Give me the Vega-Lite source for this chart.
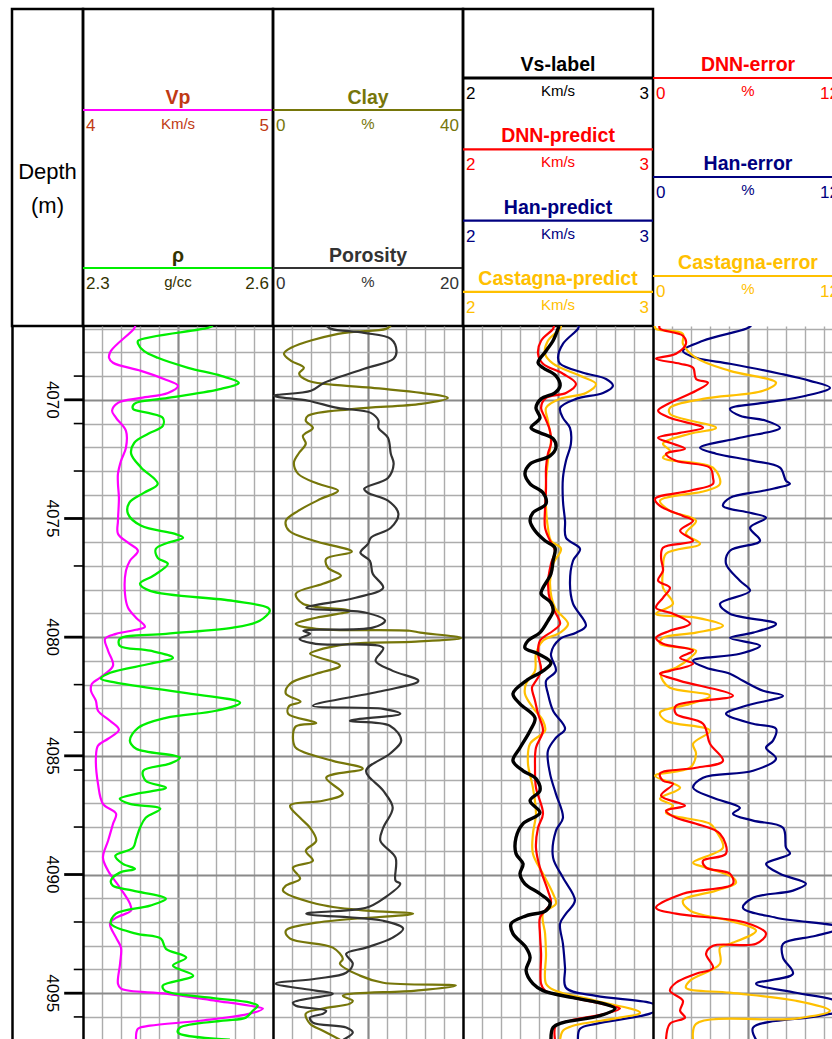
{
  "$schema": "https://vega.github.io/schema/vega-lite/v6.json",
  "background": "#ffffff",
  "padding": {"left": 10, "top": 7, "right": 0, "bottom": 0},
  "bounds": "flush",
  "spacing": 0,
  "columns": 5,
  "config": {
    "font": "Liberation Sans",
    "view": {"stroke": "#000000", "strokeWidth": 2.5}
  },
  "datasets": {
    "header": [
      {"track": 1, "curve": "Vp", "order": 1, "min": "4", "max": "5", "unit": "Km/s"},
      {"track": 1, "curve": "ρ", "order": 2, "min": "2.3", "max": "2.6", "unit": "g/cc"},
      {"track": 2, "curve": "Clay", "order": 1, "min": "0", "max": "40", "unit": "%"},
      {"track": 2, "curve": "Porosity", "order": 2, "min": "0", "max": "20", "unit": "%"},
      {"track": 3, "curve": "Vs-label", "order": 1, "min": "2", "max": "3", "unit": "Km/s"},
      {"track": 3, "curve": "DNN-predict", "order": 2, "min": "2", "max": "3", "unit": "Km/s"},
      {"track": 3, "curve": "Han-predict", "order": 3, "min": "2", "max": "3", "unit": "Km/s"},
      {"track": 3, "curve": "Castagna-predict", "order": 4, "min": "2", "max": "3", "unit": "Km/s"},
      {"track": 4, "curve": "DNN-error", "order": 1, "min": "0", "max": "12", "unit": "%"},
      {"track": 4, "curve": "Han-error", "order": 2, "min": "0", "max": "12", "unit": "%"},
      {"track": 4, "curve": "Castagna-error", "order": 3, "min": "0", "max": "12", "unit": "%"}
    ],
    "ticks": [
      {"depth": 4069, "major": false}, {"depth": 4070, "major": true}, {"depth": 4071, "major": false},
      {"depth": 4073, "major": false}, {"depth": 4075, "major": true}, {"depth": 4077, "major": false},
      {"depth": 4080, "major": true}, {"depth": 4082, "major": false}, {"depth": 4084, "major": false},
      {"depth": 4085, "major": true}, {"depth": 4085.6, "major": false}, {"depth": 4088, "major": false},
      {"depth": 4090, "major": true}, {"depth": 4092, "major": false}, {"depth": 4094, "major": false},
      {"depth": 4095, "major": true}, {"depth": 4096, "major": false}
    ],
    "vp": [
      {"depth":4066.88,"v":4.275},{"depth":4067.01,"v":4.268},{"depth":4067.94,"v":4.147},{"depth":4068.23,"v":4.137},{"depth":4068.44,"v":4.158},{"depth":4068.78,"v":4.305},{"depth":4069.12,"v":4.426},{"depth":4069.41,"v":4.5},{"depth":4069.71,"v":4.447},{"depth":4069.92,"v":4.305},{"depth":4070.13,"v":4.184},{"depth":4070.46,"v":4.153},{"depth":4070.76,"v":4.174},{"depth":4071.31,"v":4.226},{"depth":4072.02,"v":4.226},{"depth":4072.57,"v":4.2},{"depth":4073.12,"v":4.184},{"depth":4073.54,"v":4.184},{"depth":4074.13,"v":4.189},{"depth":4075.1,"v":4.184},{"depth":4075.64,"v":4.184},{"depth":4076.02,"v":4.237},{"depth":4076.36,"v":4.289},{"depth":4076.78,"v":4.247},{"depth":4077.2,"v":4.226},{"depth":4078.17,"v":4.221},{"depth":4078.76,"v":4.237},{"depth":4079.18,"v":4.279},{"depth":4079.56,"v":4.326},{"depth":4079.69,"v":4.279},{"depth":4079.86,"v":4.174},{"depth":4080.07,"v":4.116},{"depth":4080.57,"v":4.132},{"depth":4081.2,"v":4.158},{"depth":4081.71,"v":4.089},{"depth":4081.96,"v":4.047},{"depth":4082.26,"v":4.042},{"depth":4082.68,"v":4.068},{"depth":4083.1,"v":4.079},{"depth":4083.52,"v":4.142},{"depth":4083.9,"v":4.189},{"depth":4084.28,"v":4.132},{"depth":4084.57,"v":4.079},{"depth":4085.08,"v":4.068},{"depth":4086.18,"v":4.079},{"depth":4087.02,"v":4.105},{"depth":4087.44,"v":4.174},{"depth":4087.86,"v":4.158},{"depth":4088.58,"v":4.132},{"depth":4089.29,"v":4.105},{"depth":4089.84,"v":4.132},{"depth":4090.56,"v":4.195},{"depth":4091.23,"v":4.247},{"depth":4091.52,"v":4.253},{"depth":4091.82,"v":4.174},{"depth":4092.07,"v":4.142},{"depth":4092.66,"v":4.174},{"depth":4093.08,"v":4.2},{"depth":4093.76,"v":4.195},{"depth":4094.6,"v":4.184},{"depth":4094.81,"v":4.2},{"depth":4095.02,"v":4.437},{"depth":4095.32,"v":4.7},{"depth":4095.53,"v":4.879},{"depth":4095.65,"v":4.947},{"depth":4095.86,"v":4.879},{"depth":4096.16,"v":4.616},{"depth":4096.37,"v":4.353},{"depth":4096.5,"v":4.289},{"depth":4096.96,"v":4.279}
    ],
    "rho": [
      {"depth":4066.88,"v":2.505},{"depth":4066.97,"v":2.497},{"depth":4067.51,"v":2.387},{"depth":4067.64,"v":2.387},{"depth":4067.94,"v":2.396},{"depth":4068.23,"v":2.418},{"depth":4068.65,"v":2.466},{"depth":4068.99,"v":2.518},{"depth":4069.28,"v":2.546},{"depth":4069.54,"v":2.518},{"depth":4069.92,"v":2.434},{"depth":4070.17,"v":2.381},{"depth":4070.38,"v":2.379},{"depth":4070.55,"v":2.403},{"depth":4070.76,"v":2.426},{"depth":4071.1,"v":2.426},{"depth":4071.43,"v":2.403},{"depth":4071.81,"v":2.381},{"depth":4072.27,"v":2.376},{"depth":4072.86,"v":2.392},{"depth":4073.54,"v":2.418},{"depth":4073.92,"v":2.396},{"depth":4074.34,"v":2.373},{"depth":4074.8,"v":2.371},{"depth":4075.31,"v":2.392},{"depth":4075.64,"v":2.444},{"depth":4075.81,"v":2.458},{"depth":4076.02,"v":2.434},{"depth":4076.28,"v":2.415},{"depth":4076.66,"v":2.418},{"depth":4076.91,"v":2.434},{"depth":4077.41,"v":2.411},{"depth":4077.75,"v":2.39},{"depth":4078.05,"v":2.406},{"depth":4078.47,"v":2.537},{"depth":4078.76,"v":2.592},{"depth":4078.89,"v":2.595},{"depth":4079.31,"v":2.579},{"depth":4079.6,"v":2.537},{"depth":4079.86,"v":2.431},{"depth":4080.07,"v":2.358},{"depth":4080.36,"v":2.358},{"depth":4080.57,"v":2.406},{"depth":4080.87,"v":2.442},{"depth":4081.12,"v":2.406},{"depth":4081.5,"v":2.343},{"depth":4081.75,"v":2.328},{"depth":4081.92,"v":2.352},{"depth":4082.34,"v":2.458},{"depth":4082.76,"v":2.548},{"depth":4083.1,"v":2.51},{"depth":4083.4,"v":2.431},{"depth":4083.82,"v":2.387},{"depth":4084.36,"v":2.374},{"depth":4084.7,"v":2.384},{"depth":4085.08,"v":2.453},{"depth":4085.33,"v":2.437},{"depth":4085.63,"v":2.395},{"depth":4086.05,"v":2.399},{"depth":4086.34,"v":2.431},{"depth":4086.6,"v":2.384},{"depth":4086.81,"v":2.358},{"depth":4087.02,"v":2.374},{"depth":4087.23,"v":2.422},{"depth":4087.61,"v":2.399},{"depth":4088.03,"v":2.39},{"depth":4088.49,"v":2.384},{"depth":4088.87,"v":2.379},{"depth":4089.21,"v":2.351},{"depth":4089.55,"v":2.363},{"depth":4089.76,"v":2.382},{"depth":4089.92,"v":2.358},{"depth":4090.26,"v":2.344},{"depth":4090.47,"v":2.347},{"depth":4090.68,"v":2.379},{"depth":4091.02,"v":2.431},{"depth":4091.31,"v":2.406},{"depth":4091.65,"v":2.352},{"depth":4092.07,"v":2.344},{"depth":4092.49,"v":2.384},{"depth":4092.7,"v":2.423},{"depth":4093.13,"v":2.431},{"depth":4093.5,"v":2.463},{"depth":4093.84,"v":2.442},{"depth":4094.26,"v":2.474},{"depth":4094.68,"v":2.426},{"depth":4094.89,"v":2.429},{"depth":4095.19,"v":2.501},{"depth":4095.4,"v":2.564},{"depth":4095.53,"v":2.576},{"depth":4095.74,"v":2.568},{"depth":4096.03,"v":2.557},{"depth":4096.16,"v":2.521},{"depth":4096.45,"v":2.453},{"depth":4096.66,"v":2.45},{"depth":4096.96,"v":2.532}
    ],
    "clay": [
      {"depth":4066.88,"v":24.8},{"depth":4067.01,"v":23.8},{"depth":4067.22,"v":13.7},{"depth":4067.81,"v":3.8},{"depth":4068.06,"v":2.3},{"depth":4068.36,"v":3.8},{"depth":4068.65,"v":6.5},{"depth":4068.9,"v":5.5},{"depth":4069.2,"v":7.4},{"depth":4069.49,"v":20.6},{"depth":4069.71,"v":31.2},{"depth":4069.92,"v":36.8},{"depth":4070.17,"v":31.2},{"depth":4070.38,"v":17.1},{"depth":4070.67,"v":7.4},{"depth":4070.88,"v":6.9},{"depth":4071.18,"v":8.4},{"depth":4071.52,"v":6.3},{"depth":4071.85,"v":6.9},{"depth":4072.23,"v":5.5},{"depth":4072.65,"v":4.4},{"depth":4073.12,"v":5.3},{"depth":4073.54,"v":9.5},{"depth":4073.83,"v":13.7},{"depth":4074.17,"v":10.1},{"depth":4074.68,"v":5.3},{"depth":4075.1,"v":2.7},{"depth":4075.52,"v":3.4},{"depth":4075.94,"v":8.6},{"depth":4076.4,"v":16.6},{"depth":4076.7,"v":11.2},{"depth":4077.08,"v":11.6},{"depth":4077.41,"v":14.3},{"depth":4077.75,"v":10.5},{"depth":4078.17,"v":4.8},{"depth":4078.59,"v":6.3},{"depth":4078.89,"v":16.2},{"depth":4079.18,"v":9.1},{"depth":4079.44,"v":4.8},{"depth":4079.65,"v":9.1},{"depth":4079.73,"v":28.8},{"depth":4079.81,"v":31.0},{"depth":4080.03,"v":39.6},{"depth":4080.19,"v":30.1},{"depth":4080.28,"v":16.2},{"depth":4080.57,"v":9.1},{"depth":4080.7,"v":7.8},{"depth":4081.2,"v":14.1},{"depth":4081.54,"v":9.1},{"depth":4081.96,"v":3.6},{"depth":4082.38,"v":2.7},{"depth":4082.72,"v":5.8},{"depth":4082.9,"v":3.4},{"depth":4083.23,"v":3.2},{"depth":4083.62,"v":9.1},{"depth":4083.76,"v":4.8},{"depth":4084.24,"v":4.2},{"depth":4084.66,"v":4.8},{"depth":4085.21,"v":12.6},{"depth":4085.54,"v":18.9},{"depth":4085.92,"v":11.2},{"depth":4086.6,"v":14.7},{"depth":4086.89,"v":10.5},{"depth":4087.1,"v":3.6},{"depth":4087.61,"v":5.7},{"depth":4088.03,"v":7.8},{"depth":4088.58,"v":9.1},{"depth":4089.0,"v":6.9},{"depth":4089.42,"v":8.4},{"depth":4089.71,"v":4.2},{"depth":4090.18,"v":5.7},{"depth":4090.47,"v":2.7},{"depth":4090.68,"v":2.1},{"depth":4091.23,"v":9.1},{"depth":4091.52,"v":19.6},{"depth":4091.65,"v":29.5},{"depth":4092.03,"v":9.1},{"depth":4092.37,"v":2.7},{"depth":4092.7,"v":3.6},{"depth":4093.08,"v":12.6},{"depth":4093.55,"v":14.7},{"depth":4093.76,"v":14.1},{"depth":4094.26,"v":18.3},{"depth":4094.56,"v":23.2},{"depth":4094.68,"v":38.5},{"depth":4094.89,"v":30.1},{"depth":4095.11,"v":14.7},{"depth":4095.32,"v":16.8},{"depth":4095.44,"v":16.2},{"depth":4095.65,"v":10.5},{"depth":4095.86,"v":6.9},{"depth":4096.29,"v":7.8},{"depth":4096.58,"v":10.5},{"depth":4096.96,"v":14.1}
    ],
    "porosity": [
      {"depth":4066.88,"v":5.6},{"depth":4067.01,"v":6.1},{"depth":4067.18,"v":9.6},{"depth":4067.43,"v":12.4},{"depth":4067.94,"v":13.0},{"depth":4068.27,"v":12.7},{"depth":4068.69,"v":9.6},{"depth":4069.28,"v":5.4},{"depth":4069.62,"v":4.0},{"depth":4069.83,"v":0.1},{"depth":4070.04,"v":3.7},{"depth":4070.34,"v":6.8},{"depth":4070.55,"v":10.3},{"depth":4070.88,"v":11.1},{"depth":4071.18,"v":11.1},{"depth":4071.6,"v":12.1},{"depth":4072.27,"v":12.4},{"depth":4072.7,"v":12.7},{"depth":4073.29,"v":12.1},{"depth":4073.75,"v":9.6},{"depth":4073.92,"v":10.0},{"depth":4074.25,"v":12.1},{"depth":4074.8,"v":13.2},{"depth":4075.39,"v":12.4},{"depth":4075.81,"v":10.3},{"depth":4076.07,"v":10.0},{"depth":4076.44,"v":9.2},{"depth":4076.78,"v":10.2},{"depth":4077.33,"v":10.5},{"depth":4077.92,"v":11.6},{"depth":4078.34,"v":8.7},{"depth":4078.76,"v":3.5},{"depth":4078.97,"v":9.8},{"depth":4079.31,"v":11.8},{"depth":4079.6,"v":10.5},{"depth":4079.73,"v":3.2},{"depth":4079.86,"v":3.9},{"depth":4080.07,"v":2.8},{"depth":4080.28,"v":4.5},{"depth":4080.45,"v":11.6},{"depth":4080.99,"v":10.8},{"depth":4081.42,"v":12.6},{"depth":4081.84,"v":15.3},{"depth":4082.26,"v":11.6},{"depth":4082.89,"v":4.2},{"depth":4083.02,"v":11.6},{"depth":4083.23,"v":13.4},{"depth":4083.52,"v":8.1},{"depth":4083.73,"v":12.3},{"depth":4084.36,"v":13.5},{"depth":4084.91,"v":12.3},{"depth":4085.63,"v":9.8},{"depth":4086.47,"v":11.6},{"depth":4087.19,"v":12.6},{"depth":4088.03,"v":11.6},{"depth":4088.58,"v":11.3},{"depth":4089.29,"v":12.9},{"depth":4090.26,"v":12.9},{"depth":4090.39,"v":13.4},{"depth":4091.02,"v":11.6},{"depth":4091.4,"v":9.8},{"depth":4091.65,"v":3.5},{"depth":4091.95,"v":11.6},{"depth":4092.28,"v":13.7},{"depth":4092.66,"v":12.6},{"depth":4093.08,"v":9.8},{"depth":4093.34,"v":7.7},{"depth":4093.76,"v":8.4},{"depth":4094.14,"v":7.7},{"depth":4094.39,"v":4.5},{"depth":4094.6,"v":0.3},{"depth":4094.89,"v":4.5},{"depth":4095.02,"v":6.3},{"depth":4095.4,"v":2.1},{"depth":4095.53,"v":2.4},{"depth":4095.74,"v":5.6},{"depth":4095.86,"v":5.3},{"depth":4096.03,"v":3.9},{"depth":4096.24,"v":4.2},{"depth":4096.45,"v":7.7},{"depth":4096.66,"v":8.4},{"depth":4096.96,"v":7.4}
    ],
    "vsLabel": [
      {"depth":4066.88,"v":2.505},{"depth":4067.01,"v":2.5},{"depth":4067.51,"v":2.474},{"depth":4067.94,"v":2.437},{"depth":4068.44,"v":2.395},{"depth":4068.65,"v":2.421},{"depth":4068.99,"v":2.489},{"depth":4069.41,"v":2.511},{"depth":4069.71,"v":2.484},{"depth":4069.96,"v":2.411},{"depth":4070.34,"v":2.384},{"depth":4070.76,"v":2.405},{"depth":4071.18,"v":2.358},{"depth":4071.39,"v":2.405},{"depth":4071.64,"v":2.474},{"depth":4072.02,"v":2.489},{"depth":4072.36,"v":2.458},{"depth":4072.7,"v":2.353},{"depth":4073.12,"v":2.326},{"depth":4073.54,"v":2.353},{"depth":4073.92,"v":2.421},{"depth":4074.38,"v":2.437},{"depth":4074.76,"v":2.368},{"depth":4075.1,"v":2.353},{"depth":4075.52,"v":2.379},{"depth":4075.94,"v":2.432},{"depth":4076.23,"v":2.484},{"depth":4076.78,"v":2.474},{"depth":4077.33,"v":2.463},{"depth":4077.92,"v":2.421},{"depth":4078.17,"v":2.411},{"depth":4078.55,"v":2.463},{"depth":4078.89,"v":2.474},{"depth":4079.31,"v":2.447},{"depth":4079.81,"v":2.405},{"depth":4080.15,"v":2.342},{"depth":4080.45,"v":2.326},{"depth":4080.7,"v":2.395},{"depth":4081.08,"v":2.463},{"depth":4081.42,"v":2.421},{"depth":4081.84,"v":2.332},{"depth":4082.38,"v":2.263},{"depth":4082.81,"v":2.3},{"depth":4083.4,"v":2.379},{"depth":4083.94,"v":2.353},{"depth":4084.66,"v":2.3},{"depth":4085.21,"v":2.263},{"depth":4085.63,"v":2.316},{"depth":4085.96,"v":2.384},{"depth":4086.47,"v":2.405},{"depth":4086.89,"v":2.353},{"depth":4087.4,"v":2.405},{"depth":4087.86,"v":2.316},{"depth":4088.45,"v":2.279},{"depth":4089.12,"v":2.279},{"depth":4089.55,"v":2.316},{"depth":4089.97,"v":2.3},{"depth":4090.39,"v":2.326},{"depth":4090.81,"v":2.405},{"depth":4091.19,"v":2.458},{"depth":4091.52,"v":2.437},{"depth":4091.74,"v":2.332},{"depth":4092.07,"v":2.253},{"depth":4092.49,"v":2.263},{"depth":4093.08,"v":2.332},{"depth":4093.5,"v":2.353},{"depth":4094.05,"v":2.332},{"depth":4094.6,"v":2.368},{"depth":4094.89,"v":2.421},{"depth":4095.19,"v":2.579},{"depth":4095.44,"v":2.737},{"depth":4095.65,"v":2.8},{"depth":4095.95,"v":2.721},{"depth":4096.24,"v":2.526},{"depth":4096.45,"v":2.474},{"depth":4096.96,"v":2.463}
    ],
    "dnnPredict": [
      {"depth":4066.88,"v":2.479},{"depth":4067.01,"v":2.474},{"depth":4067.51,"v":2.411},{"depth":4068.06,"v":2.395},{"depth":4068.48,"v":2.421},{"depth":4068.9,"v":2.526},{"depth":4069.33,"v":2.595},{"depth":4069.71,"v":2.542},{"depth":4069.92,"v":2.437},{"depth":4070.34,"v":2.411},{"depth":4070.76,"v":2.432},{"depth":4071.31,"v":2.458},{"depth":4071.85,"v":2.463},{"depth":4072.27,"v":2.447},{"depth":4072.86,"v":2.437},{"depth":4073.71,"v":2.437},{"depth":4074.55,"v":2.432},{"depth":4075.39,"v":2.432},{"depth":4075.94,"v":2.458},{"depth":4076.36,"v":2.484},{"depth":4076.91,"v":2.463},{"depth":4077.75,"v":2.447},{"depth":4078.59,"v":2.463},{"depth":4079.01,"v":2.489},{"depth":4079.44,"v":2.511},{"depth":4079.73,"v":2.474},{"depth":4080.15,"v":2.405},{"depth":4080.7,"v":2.395},{"depth":4081.42,"v":2.411},{"depth":4081.96,"v":2.374},{"depth":4082.13,"v":2.363},{"depth":4082.68,"v":2.379},{"depth":4083.23,"v":2.395},{"depth":4083.94,"v":2.421},{"depth":4084.66,"v":2.384},{"depth":4085.5,"v":2.379},{"depth":4086.34,"v":2.384},{"depth":4087.44,"v":2.421},{"depth":4088.03,"v":2.395},{"depth":4088.87,"v":2.384},{"depth":4089.71,"v":2.405},{"depth":4090.68,"v":2.447},{"depth":4091.19,"v":2.463},{"depth":4091.52,"v":2.432},{"depth":4091.82,"v":2.405},{"depth":4092.49,"v":2.405},{"depth":4093.34,"v":2.411},{"depth":4094.6,"v":2.411},{"depth":4094.89,"v":2.432},{"depth":4095.19,"v":2.579},{"depth":4095.53,"v":2.774},{"depth":4095.65,"v":2.826},{"depth":4095.86,"v":2.753},{"depth":4096.16,"v":2.563},{"depth":4096.37,"v":2.489},{"depth":4096.96,"v":2.484}
    ],
    "castagnaPredict": [
      {"depth":4066.88,"v":2.516},{"depth":4067.01,"v":2.511},{"depth":4067.51,"v":2.447},{"depth":4068.06,"v":2.432},{"depth":4068.48,"v":2.474},{"depth":4068.99,"v":2.616},{"depth":4069.33,"v":2.7},{"depth":4069.71,"v":2.647},{"depth":4069.96,"v":2.511},{"depth":4070.34,"v":2.437},{"depth":4070.88,"v":2.447},{"depth":4071.73,"v":2.463},{"depth":4072.57,"v":2.447},{"depth":4073.41,"v":2.437},{"depth":4074.55,"v":2.437},{"depth":4075.39,"v":2.447},{"depth":4075.94,"v":2.463},{"depth":4076.28,"v":2.516},{"depth":4076.91,"v":2.474},{"depth":4077.75,"v":2.458},{"depth":4078.76,"v":2.484},{"depth":4079.44,"v":2.553},{"depth":4079.81,"v":2.511},{"depth":4080.15,"v":2.421},{"depth":4080.7,"v":2.384},{"depth":4081.42,"v":2.379},{"depth":4081.96,"v":2.332},{"depth":4082.38,"v":2.326},{"depth":4082.97,"v":2.368},{"depth":4083.52,"v":2.421},{"depth":4083.94,"v":2.432},{"depth":4084.49,"v":2.353},{"depth":4085.33,"v":2.342},{"depth":4086.34,"v":2.368},{"depth":4087.44,"v":2.384},{"depth":4088.28,"v":2.368},{"depth":4089.12,"v":2.368},{"depth":4089.97,"v":2.421},{"depth":4090.81,"v":2.474},{"depth":4091.23,"v":2.489},{"depth":4091.65,"v":2.421},{"depth":4092.49,"v":2.432},{"depth":4093.34,"v":2.437},{"depth":4094.6,"v":2.437},{"depth":4094.89,"v":2.484},{"depth":4095.32,"v":2.7},{"depth":4095.82,"v":2.932},{"depth":4096.03,"v":2.826},{"depth":4096.37,"v":2.579},{"depth":4096.58,"v":2.526},{"depth":4096.96,"v":2.511}
    ],
    "hanPredict": [
      {"depth":4066.88,"v":2.61},{"depth":4067.01,"v":2.605},{"depth":4067.64,"v":2.526},{"depth":4068.23,"v":2.5},{"depth":4068.48,"v":2.511},{"depth":4068.86,"v":2.632},{"depth":4069.12,"v":2.753},{"depth":4069.41,"v":2.789},{"depth":4069.71,"v":2.737},{"depth":4069.96,"v":2.595},{"depth":4070.34,"v":2.511},{"depth":4070.76,"v":2.526},{"depth":4071.18,"v":2.563},{"depth":4071.85,"v":2.568},{"depth":4072.57,"v":2.542},{"depth":4073.29,"v":2.526},{"depth":4074.25,"v":2.526},{"depth":4075.1,"v":2.537},{"depth":4075.81,"v":2.542},{"depth":4076.28,"v":2.616},{"depth":4076.78,"v":2.579},{"depth":4077.75,"v":2.563},{"depth":4078.59,"v":2.579},{"depth":4079.52,"v":2.647},{"depth":4079.81,"v":2.595},{"depth":4080.07,"v":2.511},{"depth":4080.7,"v":2.463},{"depth":4081.42,"v":2.489},{"depth":4081.84,"v":2.437},{"depth":4082.38,"v":2.447},{"depth":4083.1,"v":2.474},{"depth":4083.86,"v":2.537},{"depth":4084.24,"v":2.489},{"depth":4084.79,"v":2.447},{"depth":4085.75,"v":2.458},{"depth":4086.6,"v":2.489},{"depth":4087.61,"v":2.526},{"depth":4088.16,"v":2.489},{"depth":4089.29,"v":2.474},{"depth":4090.13,"v":2.526},{"depth":4091.1,"v":2.589},{"depth":4091.65,"v":2.542},{"depth":4092.07,"v":2.511},{"depth":4092.92,"v":2.526},{"depth":4093.93,"v":2.537},{"depth":4094.77,"v":2.542},{"depth":4095.11,"v":2.7},{"depth":4095.4,"v":2.984},{"depth":4095.6,"v":3.04},{"depth":4095.86,"v":2.984},{"depth":4096.29,"v":2.7},{"depth":4096.5,"v":2.616},{"depth":4096.96,"v":2.605}
    ],
    "dnnError": [
      {"depth":4066.88,"v":0.4},{"depth":4067.01,"v":0.44},{"depth":4067.3,"v":1.89},{"depth":4067.64,"v":2.08},{"depth":4068.06,"v":1.45},{"depth":4068.27,"v":0.19},{"depth":4068.48,"v":1.71},{"depth":4068.65,"v":2.53},{"depth":4069.12,"v":2.72},{"depth":4069.28,"v":3.47},{"depth":4069.62,"v":2.72},{"depth":4070.13,"v":1.07},{"depth":4070.46,"v":0.32},{"depth":4070.76,"v":1.07},{"depth":4071.18,"v":3.16},{"depth":4071.39,"v":1.71},{"depth":4071.6,"v":0.32},{"depth":4071.81,"v":1.07},{"depth":4072.06,"v":2.02},{"depth":4072.27,"v":0.82},{"depth":4072.57,"v":1.45},{"depth":4072.86,"v":3.6},{"depth":4073.29,"v":3.79},{"depth":4073.54,"v":3.79},{"depth":4073.83,"v":2.34},{"depth":4074.17,"v":0.13},{"depth":4074.47,"v":0.44},{"depth":4074.89,"v":1.89},{"depth":4075.1,"v":2.53},{"depth":4075.52,"v":1.71},{"depth":4075.94,"v":2.53},{"depth":4076.23,"v":0.63},{"depth":4076.66,"v":0.51},{"depth":4077.2,"v":0.63},{"depth":4077.62,"v":0.32},{"depth":4077.92,"v":1.07},{"depth":4078.34,"v":0.63},{"depth":4078.76,"v":0.19},{"depth":4079.01,"v":1.26},{"depth":4079.44,"v":2.34},{"depth":4079.73,"v":1.07},{"depth":4080.03,"v":0.19},{"depth":4080.28,"v":0.63},{"depth":4080.57,"v":2.53},{"depth":4080.87,"v":1.71},{"depth":4081.12,"v":2.53},{"depth":4081.42,"v":1.07},{"depth":4081.54,"v":0.44},{"depth":4081.84,"v":1.71},{"depth":4082.47,"v":5.05},{"depth":4082.89,"v":1.45},{"depth":4083.23,"v":1.45},{"depth":4083.65,"v":3.16},{"depth":4084.49,"v":3.6},{"depth":4085.21,"v":4.42},{"depth":4085.5,"v":2.72},{"depth":4085.75,"v":0.44},{"depth":4086.05,"v":0.63},{"depth":4086.18,"v":1.26},{"depth":4086.68,"v":0.51},{"depth":4087.1,"v":2.02},{"depth":4087.31,"v":0.82},{"depth":4087.61,"v":1.45},{"depth":4087.86,"v":2.72},{"depth":4088.28,"v":4.23},{"depth":4089.12,"v":4.61},{"depth":4089.42,"v":3.16},{"depth":4089.71,"v":3.35},{"depth":4089.97,"v":4.86},{"depth":4090.39,"v":5.05},{"depth":4090.81,"v":1.89},{"depth":4091.4,"v":0.19},{"depth":4091.65,"v":1.45},{"depth":4092.03,"v":5.87},{"depth":4092.49,"v":7.14},{"depth":4092.92,"v":6.51},{"depth":4093.0,"v":3.79},{"depth":4093.34,"v":3.35},{"depth":4093.93,"v":3.79},{"depth":4094.18,"v":2.72},{"depth":4094.56,"v":1.45},{"depth":4094.89,"v":1.07},{"depth":4095.32,"v":1.89},{"depth":4095.74,"v":1.71},{"depth":4096.03,"v":2.02},{"depth":4096.29,"v":1.07},{"depth":4096.96,"v":0.82}
    ],
    "castagnaError": [
      {"depth":4066.88,"v":0.1},{"depth":4067.01,"v":0.19},{"depth":4067.22,"v":1.89},{"depth":4067.64,"v":1.89},{"depth":4068.23,"v":2.72},{"depth":4068.78,"v":4.86},{"depth":4069.28,"v":7.77},{"depth":4069.62,"v":6.95},{"depth":4069.96,"v":3.16},{"depth":4070.34,"v":1.07},{"depth":4070.59,"v":1.07},{"depth":4071.18,"v":3.98},{"depth":4071.43,"v":2.34},{"depth":4071.85,"v":0.63},{"depth":4072.15,"v":1.07},{"depth":4072.44,"v":0.63},{"depth":4072.86,"v":3.79},{"depth":4073.54,"v":4.23},{"depth":4073.83,"v":3.35},{"depth":4074.25,"v":0.44},{"depth":4074.68,"v":1.07},{"depth":4075.1,"v":2.72},{"depth":4075.64,"v":2.08},{"depth":4076.07,"v":2.97},{"depth":4076.49,"v":0.82},{"depth":4077.2,"v":0.63},{"depth":4077.92,"v":0.63},{"depth":4078.59,"v":1.26},{"depth":4079.01,"v":0.19},{"depth":4079.18,"v":2.72},{"depth":4079.52,"v":4.42},{"depth":4079.81,"v":2.72},{"depth":4080.03,"v":0.63},{"depth":4080.28,"v":0.44},{"depth":4080.57,"v":2.72},{"depth":4080.87,"v":2.34},{"depth":4081.29,"v":1.45},{"depth":4081.54,"v":0.51},{"depth":4081.84,"v":0.63},{"depth":4082.13,"v":1.07},{"depth":4082.47,"v":3.6},{"depth":4082.81,"v":2.34},{"depth":4083.18,"v":0.44},{"depth":4083.52,"v":0.82},{"depth":4083.94,"v":3.6},{"depth":4084.49,"v":2.53},{"depth":4084.91,"v":2.72},{"depth":4085.5,"v":2.34},{"depth":4085.84,"v":0.13},{"depth":4086.34,"v":1.71},{"depth":4086.81,"v":0.44},{"depth":4087.1,"v":1.26},{"depth":4087.4,"v":0.82},{"depth":4087.86,"v":3.6},{"depth":4088.16,"v":3.98},{"depth":4088.87,"v":4.42},{"depth":4089.5,"v":2.53},{"depth":4089.71,"v":3.35},{"depth":4090.13,"v":5.05},{"depth":4090.35,"v":5.24},{"depth":4090.68,"v":3.98},{"depth":4091.1,"v":1.89},{"depth":4091.52,"v":2.34},{"depth":4091.95,"v":4.86},{"depth":4092.37,"v":6.51},{"depth":4092.92,"v":4.86},{"depth":4093.08,"v":4.23},{"depth":4093.76,"v":4.23},{"depth":4094.47,"v":2.34},{"depth":4094.77,"v":2.08},{"depth":4094.98,"v":4.86},{"depth":4095.32,"v":9.03},{"depth":4095.74,"v":11.18},{"depth":4096.07,"v":9.03},{"depth":4096.29,"v":2.72},{"depth":4096.96,"v":2.53}
    ],
    "hanError": [
      {"depth":4066.88,"v":6.2},{"depth":4067.01,"v":5.87},{"depth":4067.51,"v":3.16},{"depth":4067.94,"v":1.89},{"depth":4068.23,"v":2.72},{"depth":4068.48,"v":4.86},{"depth":4068.9,"v":8.02},{"depth":4069.2,"v":9.92},{"depth":4069.49,"v":11.18},{"depth":4069.83,"v":9.66},{"depth":4070.13,"v":6.95},{"depth":4070.38,"v":4.86},{"depth":4070.67,"v":5.49},{"depth":4070.88,"v":7.14},{"depth":4071.18,"v":8.02},{"depth":4071.6,"v":5.49},{"depth":4072.02,"v":2.97},{"depth":4072.27,"v":3.98},{"depth":4072.57,"v":6.32},{"depth":4072.86,"v":8.02},{"depth":4073.41,"v":8.4},{"depth":4073.54,"v":8.65},{"depth":4073.83,"v":6.95},{"depth":4074.13,"v":4.86},{"depth":4074.47,"v":4.42},{"depth":4074.76,"v":6.13},{"depth":4074.97,"v":7.14},{"depth":4075.39,"v":6.13},{"depth":4075.94,"v":6.76},{"depth":4076.36,"v":4.86},{"depth":4076.91,"v":4.61},{"depth":4077.62,"v":5.49},{"depth":4078.05,"v":6.13},{"depth":4078.59,"v":4.23},{"depth":4079.01,"v":4.86},{"depth":4079.44,"v":7.77},{"depth":4079.81,"v":6.32},{"depth":4080.03,"v":4.86},{"depth":4080.36,"v":6.76},{"depth":4080.7,"v":5.49},{"depth":4080.99,"v":2.53},{"depth":4081.29,"v":3.35},{"depth":4081.54,"v":4.86},{"depth":4081.84,"v":5.68},{"depth":4082.26,"v":6.95},{"depth":4082.47,"v":8.21},{"depth":4082.89,"v":5.87},{"depth":4083.23,"v":4.61},{"depth":4083.65,"v":6.32},{"depth":4083.86,"v":7.77},{"depth":4084.36,"v":7.58},{"depth":4084.66,"v":7.14},{"depth":4085.12,"v":7.77},{"depth":4085.63,"v":6.32},{"depth":4085.92,"v":3.16},{"depth":4086.34,"v":2.53},{"depth":4086.77,"v":3.79},{"depth":4087.19,"v":5.49},{"depth":4087.44,"v":5.05},{"depth":4087.73,"v":6.32},{"depth":4088.03,"v":8.21},{"depth":4088.87,"v":8.4},{"depth":4089.12,"v":8.65},{"depth":4089.55,"v":7.14},{"depth":4089.97,"v":8.02},{"depth":4090.39,"v":9.66},{"depth":4090.68,"v":8.84},{"depth":4090.98,"v":6.32},{"depth":4091.4,"v":5.68},{"depth":4091.82,"v":7.77},{"depth":4092.24,"v":11.87},{"depth":4092.58,"v":10.29},{"depth":4092.92,"v":8.21},{"depth":4093.5,"v":8.21},{"depth":4094.18,"v":8.84},{"depth":4094.6,"v":6.51},{"depth":4094.98,"v":9.03},{"depth":4095.32,"v":11.56},{"depth":4095.65,"v":12.2},{"depth":4095.95,"v":10.61},{"depth":4096.45,"v":6.32},{"depth":4096.96,"v":6.51}
    ]
  },
  "concat": [
    {
      "width": 71,
      "height": 317,
      "data": {"values": [{}]},
      "mark": {"type": "text", "fontSize": 22, "lineHeight": 34, "baseline": "middle", "dy": 4, "color": "#000000"},
      "encoding": {
        "x": {"datum": 0.5, "type": "quantitative", "scale": {"domain": [0, 1], "nice": false, "zero": false}, "axis": null},
        "y": {"datum": 0.5, "type": "quantitative", "scale": {"domain": [0, 1], "nice": false, "zero": false}, "axis": null},
        "text": {"value": ["Depth", "(m)"]}
      }
    },
    {
      "width": 190,
      "height": 317,
      "data": {"name": "header"},
      "transform": [{"filter": "datum.track === 1"}],
      "encoding": {"y": {"field": "order", "type": "quantitative", "scale": {"domain": [0.361, 2.367], "reverse": true, "nice": false, "zero": false}, "axis": null}},
      "layer": [
        {"mark": {"type": "rule"}, "encoding": {"x": {"datum": 0, "type": "quantitative", "scale": {"domain": [0, 1], "nice": false, "zero": false}, "axis": null}, "x2": {"datum": 1}, "stroke": {"field": "curve", "type": "nominal", "scale": {"domain": ["Vp", "ρ", "Clay", "Porosity", "Vs-label", "DNN-predict", "Han-predict", "Castagna-predict", "DNN-error", "Han-error", "Castagna-error"], "range": ["#ff00ff", "#00ee00", "#76760a", "#333333", "#000000", "#ff0000", "#000080", "#ffc000", "#ff0000", "#000080", "#ffc000"]}, "legend": null}, "strokeWidth": {"value": 2.2}}},
        {"mark": {"type": "text", "fontSize": 19.5, "fontWeight": "bold", "baseline": "alphabetic", "dy": -6}, "encoding": {"x": {"datum": 0.5, "type": "quantitative"}, "text": {"field": "curve", "type": "nominal"}, "fill": {"field": "curve", "type": "nominal", "scale": {"domain": ["Vp", "ρ", "Clay", "Porosity", "Vs-label", "DNN-predict", "Han-predict", "Castagna-predict", "DNN-error", "Han-error", "Castagna-error"], "range": ["#c03a14", "#333300", "#76760a", "#333333", "#000000", "#ff0000", "#000080", "#ffc000", "#ff0000", "#000080", "#ffc000"]}, "legend": null}}},
        {"mark": {"type": "text", "fontSize": 17, "align": "left", "baseline": "alphabetic", "dx": 3, "dy": 21}, "encoding": {"x": {"datum": 0, "type": "quantitative"}, "text": {"field": "min", "type": "nominal"}, "fill": {"field": "curve", "type": "nominal", "legend": null}}},
        {"mark": {"type": "text", "fontSize": 17, "align": "right", "baseline": "alphabetic", "dx": -4, "dy": 21}, "encoding": {"x": {"datum": 1, "type": "quantitative"}, "text": {"field": "max", "type": "nominal"}, "fill": {"field": "curve", "type": "nominal", "legend": null}}},
        {"mark": {"type": "text", "fontSize": 15, "baseline": "alphabetic", "dy": 19}, "encoding": {"x": {"datum": 0.5, "type": "quantitative"}, "text": {"field": "unit", "type": "nominal"}, "fill": {"field": "curve", "type": "nominal", "legend": null}}}
      ]
    },
    {
      "width": 190,
      "height": 317,
      "data": {"name": "header"},
      "transform": [{"filter": "datum.track === 2"}],
      "encoding": {"y": {"field": "order", "type": "quantitative", "scale": {"domain": [0.361, 2.367], "reverse": true, "nice": false, "zero": false}, "axis": null}},
      "layer": [
        {"mark": {"type": "rule"}, "encoding": {"x": {"datum": 0, "type": "quantitative", "scale": {"domain": [0, 1], "nice": false, "zero": false}, "axis": null}, "x2": {"datum": 1}, "stroke": {"field": "curve", "type": "nominal", "legend": null}, "strokeWidth": {"value": 2.2}}},
        {"mark": {"type": "text", "fontSize": 19.5, "fontWeight": "bold", "baseline": "alphabetic", "dy": -6}, "encoding": {"x": {"datum": 0.5, "type": "quantitative"}, "text": {"field": "curve", "type": "nominal"}, "fill": {"field": "curve", "type": "nominal", "legend": null}}},
        {"mark": {"type": "text", "fontSize": 17, "align": "left", "baseline": "alphabetic", "dx": 3, "dy": 21}, "encoding": {"x": {"datum": 0, "type": "quantitative"}, "text": {"field": "min", "type": "nominal"}, "fill": {"field": "curve", "type": "nominal", "legend": null}}},
        {"mark": {"type": "text", "fontSize": 17, "align": "right", "baseline": "alphabetic", "dx": -4, "dy": 21}, "encoding": {"x": {"datum": 1, "type": "quantitative"}, "text": {"field": "max", "type": "nominal"}, "fill": {"field": "curve", "type": "nominal", "legend": null}}},
        {"mark": {"type": "text", "fontSize": 15, "baseline": "alphabetic", "dy": 19}, "encoding": {"x": {"datum": 0.5, "type": "quantitative"}, "text": {"field": "unit", "type": "nominal"}, "fill": {"field": "curve", "type": "nominal", "legend": null}}}
      ]
    },
    {
      "width": 190,
      "height": 317,
      "data": {"name": "header"},
      "transform": [{"filter": "datum.track === 3"}],
      "encoding": {"y": {"field": "order", "type": "quantitative", "scale": {"domain": [0.032, 4.478], "reverse": true, "nice": false, "zero": false}, "axis": null}},
      "layer": [
        {"mark": {"type": "rule"}, "encoding": {"x": {"datum": 0, "type": "quantitative", "scale": {"domain": [0, 1], "nice": false, "zero": false}, "axis": null}, "x2": {"datum": 1}, "stroke": {"field": "curve", "type": "nominal", "legend": null}, "strokeWidth": {"condition": {"test": "datum.curve === 'Vs-label'", "value": 3.2}, "value": 2.2}}},
        {"mark": {"type": "text", "fontSize": 19.5, "fontWeight": "bold", "baseline": "alphabetic", "dy": -7}, "encoding": {"x": {"datum": 0.5, "type": "quantitative"}, "text": {"field": "curve", "type": "nominal"}, "fill": {"field": "curve", "type": "nominal", "legend": null}}},
        {"mark": {"type": "text", "fontSize": 17, "align": "left", "baseline": "alphabetic", "dx": 3, "dy": 21}, "encoding": {"x": {"datum": 0, "type": "quantitative"}, "text": {"field": "min", "type": "nominal"}, "fill": {"field": "curve", "type": "nominal", "legend": null}}},
        {"mark": {"type": "text", "fontSize": 17, "align": "right", "baseline": "alphabetic", "dx": -4, "dy": 21}, "encoding": {"x": {"datum": 1, "type": "quantitative"}, "text": {"field": "max", "type": "nominal"}, "fill": {"field": "curve", "type": "nominal", "legend": null}}},
        {"mark": {"type": "text", "fontSize": 15, "baseline": "alphabetic", "dy": 18}, "encoding": {"x": {"datum": 0.5, "type": "quantitative"}, "text": {"field": "unit", "type": "nominal"}, "fill": {"field": "curve", "type": "nominal", "legend": null}}}
      ]
    },
    {
      "width": 179,
      "height": 317,
      "view": {"stroke": null},
      "data": {"name": "header"},
      "transform": [{"filter": "datum.track === 4"}],
      "encoding": {"y": {"field": "order", "type": "quantitative", "scale": {"domain": [0.303, 3.505], "reverse": true, "nice": false, "zero": false}, "axis": null}},
      "layer": [
        {"data": {"values": [{}]}, "mark": {"type": "rule", "color": "#000000", "strokeWidth": 2.5}, "encoding": {"x": {"datum": 0, "type": "quantitative", "scale": {"domain": [0, 0.9421], "nice": false, "zero": false}, "axis": null}, "x2": {"datum": 0.9421}, "y": {"datum": 0.303, "type": "quantitative"}}},
        {"data": {"values": [{}]}, "mark": {"type": "rule", "color": "#000000", "strokeWidth": 2.5}, "encoding": {"x": {"datum": 0, "type": "quantitative"}, "x2": {"datum": 0.9421}, "y": {"datum": 3.505, "type": "quantitative"}}},
        {"mark": {"type": "rule", "clip": true}, "encoding": {"x": {"datum": 0, "type": "quantitative"}, "x2": {"datum": 1}, "stroke": {"field": "curve", "type": "nominal", "legend": null}, "strokeWidth": {"value": 2.2}}},
        {"mark": {"type": "text", "fontSize": 19.5, "fontWeight": "bold", "baseline": "alphabetic", "dy": -7}, "encoding": {"x": {"datum": 0.5, "type": "quantitative"}, "text": {"field": "curve", "type": "nominal"}, "fill": {"field": "curve", "type": "nominal", "legend": null}}},
        {"mark": {"type": "text", "fontSize": 17, "align": "left", "baseline": "alphabetic", "dx": 3, "dy": 21}, "encoding": {"x": {"datum": 0, "type": "quantitative"}, "text": {"field": "min", "type": "nominal"}, "fill": {"field": "curve", "type": "nominal", "legend": null}}},
        {"mark": {"type": "text", "fontSize": 17, "align": "right", "baseline": "alphabetic", "dx": -4, "dy": 21, "clip": true}, "encoding": {"x": {"datum": 1, "type": "quantitative"}, "text": {"field": "max", "type": "nominal"}, "fill": {"field": "curve", "type": "nominal", "legend": null}}},
        {"mark": {"type": "text", "fontSize": 15, "baseline": "alphabetic", "dy": 18}, "encoding": {"x": {"datum": 0.5, "type": "quantitative"}, "text": {"field": "unit", "type": "nominal"}, "fill": {"field": "curve", "type": "nominal", "legend": null}}}
      ]
    },
    {
      "width": 71,
      "height": 713,
      "view": {"stroke": null},
      "data": {"name": "ticks"},
      "encoding": {"y": {"field": "depth", "type": "quantitative", "scale": {"domain": [4066.89, 4096.93], "reverse": true, "nice": false, "zero": false}, "axis": {"orient": "left", "title": null, "labels": false, "ticks": false, "grid": false, "domain": true, "domainColor": "#000000", "domainWidth": 2.5}}},
      "layer": [
        {"transform": [{"filter": "datum.major"}], "mark": {"type": "rule", "color": "#000000", "strokeWidth": 2.8}, "encoding": {"x": {"datum": 0.735, "type": "quantitative", "scale": {"domain": [0, 1], "nice": false, "zero": false}, "axis": null}, "x2": {"datum": 1}}},
        {"transform": [{"filter": "!datum.major"}], "mark": {"type": "rule", "color": "#000000", "strokeWidth": 1.6}, "encoding": {"x": {"datum": 0.87, "type": "quantitative"}, "x2": {"datum": 1}}},
        {"transform": [{"filter": "datum.major"}], "mark": {"type": "text", "angle": 90, "fontSize": 17, "align": "center", "baseline": "middle", "color": "#000000"}, "encoding": {"x": {"datum": 0.57, "type": "quantitative"}, "text": {"field": "depth", "type": "quantitative", "format": "d"}}}
      ]
    },
    {
      "width": 190,
      "height": 713,
      "view": {"stroke": null},
      "encoding": {
        "y": {"field": "depth", "type": "quantitative", "scale": {"domain": [4066.89, 4096.93], "reverse": true, "nice": false, "zero": false}, "axis": {"orient": "left", "title": null, "labels": false, "ticks": false, "domain": true, "domainColor": "#000000", "domainWidth": 2.5, "grid": true, "values": [4067,4068,4069,4070,4071,4072,4073,4074,4075,4076,4077,4078,4079,4080,4081,4082,4083,4084,4085,4086,4087,4088,4089,4090,4091,4092,4093,4094,4095,4096], "gridColor": {"condition": {"test": "datum.value % 5 === 0", "value": "#8a8a8a"}, "value": "#acacac"}, "gridWidth": {"condition": {"test": "datum.value % 5 === 0", "value": 2.2}, "value": 1.4}}},
        "order": {"field": "depth", "type": "quantitative"}
      },
      "layer": [
        {"data": {"name": "vp"}, "mark": {"type": "line", "color": "#ff00ff", "strokeWidth": 2.2, "strokeJoin": "round", "interpolate": "catmull-rom", "clip": true}, "encoding": {"x": {"field": "v", "type": "quantitative", "scale": {"domain": [4, 5], "nice": false, "zero": false}, "axis": {"orient": "top", "title": null, "labels": false, "ticks": false, "domain": false, "grid": true, "values": [4.1,4.2,4.3,4.4,4.5,4.6,4.7,4.8,4.9], "gridColor": {"condition": {"test": "datum.value === 4.5", "value": "#8a8a8a"}, "value": "#acacac"}, "gridWidth": {"condition": {"test": "datum.value === 4.5", "value": 2.2}, "value": 1.4}}}}},
        {"data": {"name": "rho"}, "mark": {"type": "line", "color": "#00ee00", "strokeWidth": 2.3, "strokeJoin": "round", "interpolate": "catmull-rom", "clip": true}, "encoding": {"x": {"field": "v", "type": "quantitative", "scale": {"domain": [2.3, 2.6], "nice": false, "zero": false}, "axis": null}}}
      ],
      "resolve": {"scale": {"x": "independent"}}
    },
    {
      "width": 190,
      "height": 713,
      "view": {"stroke": null},
      "encoding": {
        "y": {"field": "depth", "type": "quantitative", "scale": {"domain": [4066.89, 4096.93], "reverse": true, "nice": false, "zero": false}, "axis": {"orient": "left", "title": null, "labels": false, "ticks": false, "domain": true, "domainColor": "#000000", "domainWidth": 2.5, "grid": true, "values": [4067,4068,4069,4070,4071,4072,4073,4074,4075,4076,4077,4078,4079,4080,4081,4082,4083,4084,4085,4086,4087,4088,4089,4090,4091,4092,4093,4094,4095,4096], "gridColor": {"condition": {"test": "datum.value % 5 === 0", "value": "#8a8a8a"}, "value": "#acacac"}, "gridWidth": {"condition": {"test": "datum.value % 5 === 0", "value": 2.2}, "value": 1.4}}},
        "order": {"field": "depth", "type": "quantitative"}
      },
      "layer": [
        {"data": {"name": "clay"}, "mark": {"type": "line", "color": "#76760a", "strokeWidth": 2.2, "strokeJoin": "round", "interpolate": "catmull-rom", "clip": true}, "encoding": {"x": {"field": "v", "type": "quantitative", "scale": {"domain": [0, 40], "nice": false, "zero": false}, "axis": {"orient": "top", "title": null, "labels": false, "ticks": false, "domain": false, "grid": true, "values": [4,8,12,16,20,24,28,32,36], "gridColor": {"condition": {"test": "datum.value === 20", "value": "#8a8a8a"}, "value": "#acacac"}, "gridWidth": {"condition": {"test": "datum.value === 20", "value": 2.2}, "value": 1.4}}}}},
        {"data": {"name": "porosity"}, "mark": {"type": "line", "color": "#333333", "strokeWidth": 2.2, "strokeJoin": "round", "interpolate": "catmull-rom", "clip": true}, "encoding": {"x": {"field": "v", "type": "quantitative", "scale": {"domain": [0, 20], "nice": false, "zero": false}, "axis": null}}}
      ],
      "resolve": {"scale": {"x": "independent"}}
    },
    {
      "width": 190,
      "height": 713,
      "view": {"stroke": null},
      "encoding": {
        "y": {"field": "depth", "type": "quantitative", "scale": {"domain": [4066.89, 4096.93], "reverse": true, "nice": false, "zero": false}, "axis": {"orient": "left", "title": null, "labels": false, "ticks": false, "domain": true, "domainColor": "#000000", "domainWidth": 2.5, "grid": true, "values": [4067,4068,4069,4070,4071,4072,4073,4074,4075,4076,4077,4078,4079,4080,4081,4082,4083,4084,4085,4086,4087,4088,4089,4090,4091,4092,4093,4094,4095,4096], "gridColor": {"condition": {"test": "datum.value % 5 === 0", "value": "#8a8a8a"}, "value": "#acacac"}, "gridWidth": {"condition": {"test": "datum.value % 5 === 0", "value": 2.2}, "value": 1.4}}},
        "order": {"field": "depth", "type": "quantitative"},
        "x": {"field": "v", "type": "quantitative", "scale": {"domain": [2, 3], "nice": false, "zero": false}, "axis": {"orient": "top", "title": null, "labels": false, "ticks": false, "domain": false, "grid": true, "values": [2.1,2.2,2.3,2.4,2.5,2.6,2.7,2.8,2.9], "gridColor": {"condition": {"test": "datum.value === 2.5", "value": "#8a8a8a"}, "value": "#acacac"}, "gridWidth": {"condition": {"test": "datum.value === 2.5", "value": 2.2}, "value": 1.4}}}
      },
      "layer": [
        {"data": {"name": "hanPredict"}, "mark": {"type": "line", "color": "#000080", "strokeWidth": 2.2, "strokeJoin": "round", "interpolate": "catmull-rom", "clip": true}},
        {"data": {"name": "castagnaPredict"}, "mark": {"type": "line", "color": "#ffc000", "strokeWidth": 2.2, "strokeJoin": "round", "interpolate": "catmull-rom", "clip": true}},
        {"data": {"name": "dnnPredict"}, "mark": {"type": "line", "color": "#ff0000", "strokeWidth": 2.2, "strokeJoin": "round", "interpolate": "catmull-rom", "clip": true}},
        {"data": {"name": "vsLabel"}, "mark": {"type": "line", "color": "#000000", "strokeWidth": 3.4, "strokeJoin": "round", "interpolate": "catmull-rom", "clip": true}}
      ]
    },
    {
      "width": 179,
      "height": 713,
      "view": {"stroke": null},
      "encoding": {
        "y": {"field": "depth", "type": "quantitative", "scale": {"domain": [4066.89, 4096.93], "reverse": true, "nice": false, "zero": false}, "axis": {"orient": "left", "title": null, "labels": false, "ticks": false, "domain": true, "domainColor": "#000000", "domainWidth": 2.5, "grid": true, "values": [4067,4068,4069,4070,4071,4072,4073,4074,4075,4076,4077,4078,4079,4080,4081,4082,4083,4084,4085,4086,4087,4088,4089,4090,4091,4092,4093,4094,4095,4096], "gridColor": {"condition": {"test": "datum.value % 5 === 0", "value": "#8a8a8a"}, "value": "#acacac"}, "gridWidth": {"condition": {"test": "datum.value % 5 === 0", "value": 2.2}, "value": 1.4}}},
        "order": {"field": "depth", "type": "quantitative"},
        "x": {"field": "v", "type": "quantitative", "scale": {"domain": [0, 11.305], "nice": false, "zero": false}, "axis": {"orient": "top", "title": null, "labels": false, "ticks": false, "domain": false, "grid": true, "values": [1.2,2.4,3.6,4.8,6,7.2,8.4,9.6,10.8], "gridColor": {"condition": {"test": "datum.value === 6", "value": "#8a8a8a"}, "value": "#acacac"}, "gridWidth": {"condition": {"test": "datum.value === 6", "value": 2.2}, "value": 1.4}}}
      },
      "layer": [
        {"data": {"name": "hanError"}, "mark": {"type": "line", "color": "#000080", "strokeWidth": 2.2, "strokeJoin": "round", "interpolate": "catmull-rom", "clip": true}},
        {"data": {"name": "castagnaError"}, "mark": {"type": "line", "color": "#ffc000", "strokeWidth": 2.2, "strokeJoin": "round", "interpolate": "catmull-rom", "clip": true}},
        {"data": {"name": "dnnError"}, "mark": {"type": "line", "color": "#ff0000", "strokeWidth": 2.2, "strokeJoin": "round", "interpolate": "catmull-rom", "clip": true}}
      ]
    }
  ]
}
